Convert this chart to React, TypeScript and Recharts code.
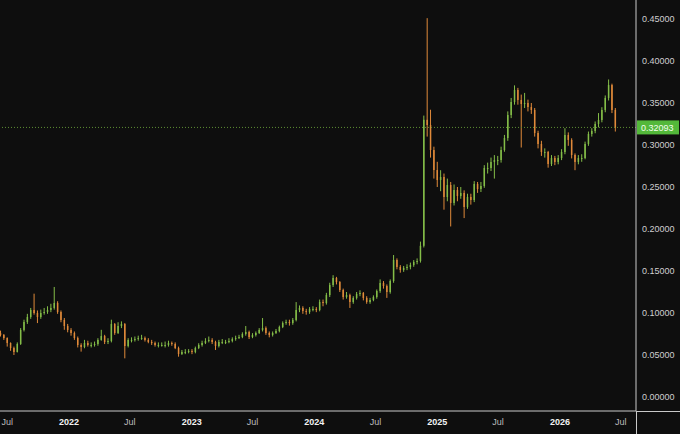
import React from 'react';
import { ComposedChart, Bar, XAxis, YAxis, ReferenceLine } from 'recharts';

// candles every 10 days starting here
const CANDLE_START = '2021-06-10';
const STEP_DAYS = 10;
const FIRST_OPEN = 0.076;

const closes = [
  0.0738, 0.0702, 0.0643, 0.0583, 0.0536, 0.0631, 0.0798, 0.0893, 0.0952, 0.1036,
  0.1000, 0.0952, 0.1000, 0.1012, 0.1036, 0.1060, 0.1119, 0.1012, 0.0917, 0.0845,
  0.0798, 0.0762, 0.0702, 0.0619, 0.0595, 0.0643, 0.0619, 0.0619, 0.0631, 0.0679,
  0.0726, 0.0655, 0.0667, 0.0869, 0.0762, 0.0845, 0.0869, 0.0607, 0.0679, 0.0679,
  0.0690, 0.0702, 0.0702, 0.0679, 0.0655, 0.0643, 0.0619, 0.0619, 0.0619, 0.0619,
  0.0643, 0.0631, 0.0583, 0.0512, 0.0536, 0.0536, 0.0548, 0.0536, 0.0583, 0.0619,
  0.0643, 0.0667, 0.0679, 0.0655, 0.0607, 0.0655, 0.0655, 0.0655, 0.0667, 0.0690,
  0.0702, 0.0714, 0.0750, 0.0774, 0.0714, 0.0738, 0.0762, 0.0798, 0.0821, 0.0762,
  0.0738, 0.0762, 0.0786, 0.0833, 0.0881, 0.0893, 0.0881, 0.0917, 0.1036, 0.1060,
  0.1024, 0.1012, 0.1048, 0.1048, 0.1036, 0.1131, 0.1119, 0.1214, 0.1333, 0.1417,
  0.1369, 0.1274, 0.1190, 0.1214, 0.1131, 0.1179, 0.1226, 0.1238, 0.1179, 0.1131,
  0.1155, 0.1190, 0.1262, 0.1357, 0.1321, 0.1250, 0.1381, 0.1631, 0.1548, 0.1512,
  0.1536, 0.1548, 0.1571, 0.1607, 0.1619, 0.1800, 0.3300, 0.3238, 0.2940, 0.2702,
  0.2583, 0.2619, 0.2381, 0.2524, 0.2310, 0.2464, 0.2393, 0.2429, 0.2262, 0.2381,
  0.2345, 0.2536, 0.2476, 0.2512, 0.2726, 0.2726, 0.2798, 0.2821, 0.2821, 0.2940,
  0.3083, 0.3357, 0.3512, 0.3655, 0.3536, 0.3488, 0.3500, 0.3452, 0.3417, 0.3143,
  0.3012, 0.2917, 0.2917, 0.2774, 0.2845, 0.2798, 0.2845, 0.2917, 0.3119, 0.3060,
  0.2881, 0.2798, 0.2845, 0.2845, 0.3012, 0.3131, 0.3167, 0.3250, 0.3298, 0.3417,
  0.3560, 0.3714, 0.3417, 0.32093,
];

const highs = [
  0.0790, 0.0750, 0.0710, 0.0650, 0.0600, 0.0650, 0.0820, 0.0920, 0.0990, 0.1060,
  0.1230, 0.1030, 0.1040, 0.1060, 0.1080, 0.1110, 0.1310, 0.1140, 0.1030, 0.0940,
  0.0870, 0.0820, 0.0780, 0.0720, 0.0640, 0.0680, 0.0670, 0.0650, 0.0660, 0.0700,
  0.0800, 0.0740, 0.0700, 0.0920, 0.0880, 0.0890, 0.0900, 0.0880, 0.0700, 0.0710,
  0.0720, 0.0730, 0.0740, 0.0720, 0.0700, 0.0680, 0.0660, 0.0650, 0.0650, 0.0660,
  0.0670, 0.0660, 0.0650, 0.0600, 0.0560, 0.0570, 0.0570, 0.0570, 0.0600, 0.0640,
  0.0670, 0.0700, 0.0720, 0.0700, 0.0670, 0.0680, 0.0690, 0.0680, 0.0700, 0.0710,
  0.0730, 0.0740, 0.0770, 0.0845, 0.0790, 0.0760, 0.0780, 0.0820, 0.0940, 0.0840,
  0.0780, 0.0780, 0.0810, 0.0850, 0.0900, 0.0920, 0.0920, 0.0940, 0.1130, 0.1090,
  0.1080, 0.1050, 0.1070, 0.1080, 0.1070, 0.1160, 0.1160, 0.1240, 0.1360, 0.1450,
  0.1430, 0.1380, 0.1290, 0.1250, 0.1230, 0.1200, 0.1250, 0.1270, 0.1250, 0.1200,
  0.1180, 0.1210, 0.1280, 0.1400, 0.1380, 0.1340, 0.1400, 0.1690, 0.1650, 0.1570,
  0.1560, 0.1580, 0.1600, 0.1630, 0.1650, 0.1850, 0.3350, 0.4510, 0.3420, 0.2980,
  0.2800, 0.2700, 0.2660, 0.2600, 0.2560, 0.2530, 0.2500, 0.2500, 0.2460, 0.2420,
  0.2420, 0.2570, 0.2560, 0.2560, 0.2760, 0.2790, 0.2850, 0.2880, 0.2870, 0.2980,
  0.3120, 0.3400, 0.3560, 0.3710, 0.3680, 0.3600, 0.3620, 0.3540, 0.3500, 0.3440,
  0.3170, 0.3050, 0.2960, 0.2930, 0.2880, 0.2870, 0.2880, 0.2950, 0.3200, 0.3150,
  0.3080, 0.2900, 0.2880, 0.2890, 0.3040, 0.3160, 0.3200, 0.3280, 0.3380, 0.3450,
  0.3590, 0.3780, 0.3730, 0.3440,
];

const lows = [
  0.0720, 0.0680, 0.0600, 0.0550, 0.0500, 0.0530, 0.0620, 0.0780, 0.0870, 0.0930,
  0.0980, 0.0880, 0.0930, 0.0980, 0.0990, 0.1010, 0.1040, 0.0990, 0.0890, 0.0800,
  0.0770, 0.0730, 0.0680, 0.0590, 0.0540, 0.0580, 0.0600, 0.0590, 0.0600, 0.0610,
  0.0670, 0.0630, 0.0630, 0.0650, 0.0740, 0.0750, 0.0820, 0.0460, 0.0590, 0.0650,
  0.0660, 0.0670, 0.0680, 0.0660, 0.0640, 0.0620, 0.0600, 0.0590, 0.0600, 0.0590,
  0.0600, 0.0610, 0.0570, 0.0480, 0.0500, 0.0510, 0.0520, 0.0510, 0.0520, 0.0570,
  0.0600, 0.0630, 0.0650, 0.0630, 0.0560, 0.0590, 0.0630, 0.0630, 0.0640, 0.0650,
  0.0670, 0.0690, 0.0700, 0.0730, 0.0690, 0.0700, 0.0720, 0.0750, 0.0780, 0.0740,
  0.0710, 0.0720, 0.0750, 0.0770, 0.0820, 0.0860, 0.0850, 0.0860, 0.0900, 0.1010,
  0.0990, 0.0980, 0.0990, 0.1020, 0.1010, 0.1020, 0.1080, 0.1100, 0.1190, 0.1310,
  0.1340, 0.1250, 0.1160, 0.1170, 0.1060, 0.1110, 0.1160, 0.1200, 0.1150, 0.1110,
  0.1110, 0.1140, 0.1170, 0.1240, 0.1290, 0.1180, 0.1230, 0.1360, 0.1520, 0.1480,
  0.1490, 0.1510, 0.1520, 0.1550, 0.1580, 0.1600, 0.1780, 0.3100, 0.2850, 0.2600,
  0.2500, 0.2450, 0.2230, 0.2330, 0.2030, 0.2280, 0.2330, 0.2360, 0.2130, 0.2240,
  0.2290, 0.2320, 0.2430, 0.2440, 0.2490, 0.2660, 0.2690, 0.2600, 0.2760, 0.2790,
  0.2920, 0.3050, 0.3320, 0.3480, 0.3480, 0.2970, 0.3440, 0.3400, 0.3370, 0.3100,
  0.2960, 0.2870, 0.2850, 0.2730, 0.2750, 0.2760, 0.2770, 0.2820, 0.2890, 0.2990,
  0.2840, 0.2700, 0.2770, 0.2800, 0.2830, 0.2990, 0.3100, 0.3140, 0.3210, 0.3270,
  0.3390, 0.3530, 0.3380, 0.3160,
];

const LAST_PRICE = 0.32093;

const xTickDates = [
  '2021-07-01', '2022-01-01', '2022-07-01', '2023-01-01', '2023-07-01', '2024-01-01',
  '2024-07-01', '2025-01-01', '2025-07-01', '2026-01-01', '2026-07-01',
];
const yTicks = [0, 0.05, 0.1, 0.15, 0.2, 0.25, 0.3, 0.35, 0.4, 0.45];

const DAY = 86400000;
const UP = '#84bd48';
const DOWN = '#e08a3a';
const BG = '#0e0e0e';
const AXIS = '#c9c9c9';
const FONT = '"Liberation Sans", Arial, sans-serif';

const t0 = Date.parse(CANDLE_START + 'T00:00:00Z');
const candles = closes.map((close, i) => {
  const open = i === 0 ? FIRST_OPEN : closes[i - 1];
  const high = Math.max(highs[i], open, close);
  const low = Math.min(lows[i], open, close);
  return { t: t0 + i * STEP_DAYS * DAY, open, close, high, low, range: [low, high] };
});

const xTicks = xTickDates.map((d) => Date.parse(d + 'T00:00:00Z'));
const xDomain = [Date.parse('2021-06-09T12:00:00Z'), Date.parse('2026-08-15T12:00:00Z')];

const Candle = (props: any) => {
  const { x, y, width, height, payload } = props;
  if (x == null || !payload) return null;
  const top = Math.min(y, y + height);
  const h = Math.abs(height);
  const { open, close, high, low } = payload;
  const span = high - low || 1e-9;
  const py = (v: number) => top + ((high - v) / span) * h;
  const color = close >= open ? UP : DOWN;
  const cx = x + width / 2;
  const bTop = py(Math.max(open, close));
  const bBot = py(Math.min(open, close));
  return (
    <g>
      <line x1={cx} x2={cx} y1={top} y2={top + h} stroke={color} strokeWidth={1} />
      <rect x={cx - 0.75} y={bTop} width={1.5} height={Math.max(bBot - bTop, 1)} fill={color} />
    </g>
  );
};

const TimeTick = (props: any) => {
  const { x, y, payload } = props;
  const d = new Date(payload.value);
  const isYear = d.getUTCMonth() === 0;
  return (
    <text
      x={x}
      y={y + 14}
      textAnchor="middle"
      fontFamily={FONT}
      fontSize={9}
      fontWeight={isYear ? 700 : 400}
      fill={isYear ? '#f2f2f2' : '#bdbdbd'}
    >
      {isYear ? String(d.getUTCFullYear()) : 'Jul'}
    </text>
  );
};

const PriceTag = (props: any) => {
  const vb = props.viewBox || {};
  const right = (vb.x || 0) + (vb.width || 0);
  const cy = vb.y || 0;
  return (
    <g>
      <rect x={right + 1} y={cy - 7} width={42} height={14} fill="#53b83a" />
      <text x={right + 5} y={cy + 3.5} fontFamily={FONT} fontSize={9} fill="#f4fff0">
        {LAST_PRICE.toFixed(5)}
      </text>
    </g>
  );
};

export default function App() {
  return (
    <div style={{ position: 'relative', width: 680, height: 434, background: BG }}>
      <style>{`body{margin:0;background:${BG}}`}</style>
      <ComposedChart
        width={680}
        height={434}
        data={candles}
        margin={{ top: 0, right: 0, bottom: 0, left: 0 }}
      >
        <XAxis
          dataKey="t"
          type="number"
          scale="linear"
          domain={xDomain}
          ticks={xTicks}
          allowDataOverflow
          height={23}
          tickSize={0}
          tickMargin={0}
          tickLine={false}
          axisLine={{ stroke: AXIS }}
          tick={<TimeTick />}
          interval={0}
        />
        <YAxis
          orientation="right"
          type="number"
          domain={[-0.01667, 0.47262]}
          ticks={yTicks}
          allowDataOverflow
          width={44}
          tickSize={0}
          tickMargin={6}
          tickLine={false}
          axisLine={{ stroke: AXIS }}
          tick={{ fill: '#cfcfcf', fontSize: 9, fontFamily: FONT }}
          tickFormatter={(v: number) => v.toFixed(5)}
          interval={0}
        />
        <ReferenceLine
          y={LAST_PRICE}
          stroke="#5e8f33"
          strokeDasharray="1 2"
          label={<PriceTag />}
        />
        <Bar dataKey="range" barSize={2} shape={<Candle />} isAnimationActive={false} />
      </ComposedChart>
      <div style={{ position: 'absolute', left: 636, top: 411, width: 1, height: 23, background: AXIS }} />
      <div style={{ position: 'absolute', left: 636, top: 411, width: 44, height: 1, background: AXIS }} />
    </div>
  );
}
